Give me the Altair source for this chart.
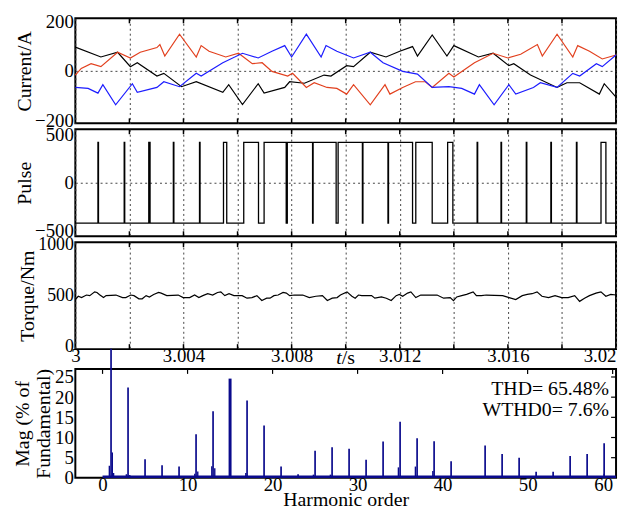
import altair as alt
import pandas as pd

W = 546
H1, H2, H3, H4 = 106, 108, 108, 110
FONT = "Liberation Serif"
RED = "#e2401e"
BLUE = "#1c1cff"
NAVY = "#0a0a8c"
GRID = "#444444"
T0 = 3.0

# ---------------- data: phase currents (time in microseconds after 3 s, current in A)
black_us = [0, 945, 1564, 2036, 2291, 3018, 3273, 3927, 4473, 5455,
            5673, 6182, 6764, 6982, 7745, 7927, 8473, 9200, 9455, 10036,
            10291, 10909, 11491, 12000, 12473, 12655, 13200, 13745, 14000, 14909,
            15454, 16036, 16218, 16836, 17818, 18182, 18655, 19382, 19564, 20000]
black_a = [96, 56, 75, 17, 33, -21, -10, -64, -44, -87,
           -56, -136, -52, -90, -67, -44, -50, -17, -21, 21,
           17, 75, 56, 79, 98, 60, 145, 60, 102, 56,
           71, 21, 29, -17, -67, -48, -48, -94, -52, -106]

red_us = [0, 218, 582, 945, 1564, 2036, 2400, 3018, 3127, 3309,
          3854, 4473, 4654, 4945, 5564, 6036, 6545, 6909, 7273, 7854,
          8036, 8545, 8836, 9309, 9673, 10036, 10291, 10909, 11454, 11636,
          12109, 12582, 12945, 13200, 13818, 14000, 14763, 15454, 16000, 16473,
          17091, 17273, 17818, 18400, 18582, 19018, 19491, 20000]
red_a = [-17, 10, 29, 17, 75, 52, 75, 94, 106, 60,
         148, 56, 102, 79, 56, 71, 29, 33, -2, -21,
         -10, -67, -48, -67, -71, -94, -56, -137, -56, -94,
         -67, -44, -44, -67, -10, -25, 33, 71, 52, 67,
         106, 60, 148, 56, 102, 79, 48, 64]

blue_us = [0, 473, 836, 1018, 1491, 2109, 2291, 3018, 3273, 3854,
           4473, 4654, 5455, 6182, 6764, 7273, 7745, 8000, 8545, 9091,
           9273, 9673, 10291, 10909, 11382, 12109, 12655, 13200, 13818, 14291,
           14763, 14945, 15490, 16036, 16291, 16945, 17200, 17818, 18400, 18655,
           19273, 19491, 20000]
blue_a = [-67, -71, -90, -56, -137, -52, -87, -67, -44, -64,
          -10, -21, 33, 71, 52, 79, 102, 56, 148, 56,
          102, 79, 52, 75, 33, -2, -13, -67, -64, -71,
          -94, -56, -137, -56, -94, -67, -48, -67, -10, -21,
          29, 17, 64]

# ---------------- data: pulse (switching edges, microseconds)
PULSE_LOW, PULSE_HIGH = -420, 420
pulse_edges_us = [836, 856, 1807, 1827, 2716, 2764, 3625, 3645, 4593, 4613,
                  5480, 5600, 6229, 6775, 6982, 7800, 7840, 8775, 8795, 9647,
                  9720, 10618, 10638, 11564, 11584, 12473, 12593, 13200, 13771, 13964,
                  14862, 14882, 15745, 15765, 16680, 16700, 17589, 17609, 18535, 18555,
                  19444, 19625]

# ---------------- data: torque
torque_us = [0, 109, 230, 412, 533, 715, 800, 897, 1042, 1139,
             1503, 1745, 1867, 2048, 2170, 2351, 2473, 2618, 2739, 2897,
             3079, 3175, 3382, 3806, 3988, 4230, 4412, 4569, 4715, 4897,
             5079, 5260, 5381, 5527, 5685, 5866, 6169, 6351, 6533, 6715,
             6897, 7078, 7200, 7345, 7502, 7684, 7805, 7927, 8108, 8411,
             8654, 8896, 9139, 9321, 9502, 9684, 9805,
             10048, 10230, 10351, 10472, 10593, 10957, 11078, 11321, 11502,
             11684, 11866, 11987, 12108, 12290, 12411, 12593, 12775, 13381, 13623,
             13866, 13987, 14108, 14290, 14472, 14714, 14835, 15017, 15199, 15805,
             16047, 16290, 16532, 16714, 16896, 17078, 17259, 17502, 17744, 17987,
             18229, 18471, 18653, 18835, 19017, 19259, 19441, 19623, 19805, 20000]
torque_nm = [462, 494, 481, 506, 500, 537, 531, 509, 481, 500,
             506, 481, 481, 506, 500, 469, 469, 500, 487, 512,
             531, 525, 500, 506, 481, 481, 506, 481, 500, 519,
             506, 531, 537, 500, 519, 500, 500, 475, 481, 500,
             453, 475, 475, 500, 506, 531, 525, 500, 506, 506,
             481, 494, 500, 453, 475, 481, 506,
             537, 494, 475, 506, 500, 500, 475, 487, 475,
             453, 500, 512, 494, 525, 537, 481, 506, 506, 475,
             481, 450, 487, 500, 512, 537, 500, 500, 506, 500,
             481, 462, 500, 512, 519, 537, 494, 481, 500, 481,
             481, 500, 444, 475, 500, 525, 537, 494, 512, 506]

# ---------------- data: harmonic spectrum
orders = [1, 3, 5, 7, 9, 11, 13, 15, 17, 19, 21, 23, 25, 27, 29, 31, 33, 35, 37, 39,
          41, 45, 47, 49, 51, 53, 55, 57, 59]
mags = [32, 22.4, 4.6, 3.1, 2.8, 10.8, 16.5, 24.6, 19.2, 13.0, 2.8, 0.9, 6.7, 7.6, 7.2,
        4.5, 9.0, 13.9, 9.8, 9.1, 4.1, 8.0, 5.9, 5.0, 1.5, 1.5, 5.4, 5.9, 8.6]
side_orders = [0.8, 1.15, 1.3, 2.8, 3.2, 10.85, 11.2, 12.85, 13.2, 16.85,
               24.8, 26.8, 34.8, 36.8, 38.85, 59.0]
side_mags = [3.0, 6.3, 1.2, 0.9, 0.7, 1.0, 1.6, 2.9, 2.4, 1.2,
             0.8, 0.8, 2.6, 2.8, 1.7, 1.0]
base_span = [0.0, 60.4]
base_level = 0.3
thd_lines = ["THD= 65.48%", "WTHD0= 7.6%"]

# ---------------- axis values
grid_t = [3.0, 3.002, 3.004, 3.006, 3.008, 3.01, 3.012, 3.014, 3.016, 3.018, 3.02]
tick_t = [3.002, 3.004, 3.006, 3.008, 3.01, 3.012, 3.014, 3.016, 3.018]
harm_ticks = [0, 10, 20, 30, 40, 50, 60]
mag_ticks = [0, 5, 10, 15, 20, 25]


def tdf(us, vals, col, **extra):
    d = {"t": [T0 + u / 1e6 for u in us], col: vals}
    d.update(extra)
    return pd.DataFrame(d)


cur = pd.concat([
    tdf(black_us, black_a, "a", phase=["a"] * len(black_us)),
    tdf(red_us, red_a, "a", phase=["b"] * len(red_us)),
    tdf(blue_us, blue_a, "a", phase=["c"] * len(blue_us)),
], ignore_index=True)

p_us = [0]
p_lv = [PULSE_LOW]
lvl = PULSE_LOW
for e in pulse_edges_us:
    lvl = PULSE_HIGH if lvl == PULSE_LOW else PULSE_LOW
    p_us.append(e)
    p_lv.append(lvl)
p_us.append(20000)
p_lv.append(lvl)
pulse = tdf(p_us, p_lv, "p")

torque = tdf(torque_us, torque_nm, "q")

zero_grid = {"condition": {"test": "datum.value == 0", "value": 1}, "value": 0}


def x_time(show_labels):
    ax = dict(values=grid_t, grid=True, gridDash=[2, 3], gridColor=GRID, gridWidth=1,
              ticks=False, domain=False, title=None)
    if show_labels:
        ax.update(labels=True, labelFlush=False,
                  labelExpr="(round((datum.value - 3) * 1000) % 4 == 0) ? format(datum.value, '.4~f') : ''",
                  labelFontSize=19, labelPadding=-2,
                  labelAlign={"condition": {"test": "datum.value >= 3.0199", "value": "right"}, "value": "center"})
    else:
        ax.update(labels=False)
    return alt.X("t:Q", scale=alt.Scale(domain=[3.0, 3.02], nice=False, zero=False),
                 axis=alt.Axis(**ax))


def y_ax(field, domain, values, title, grid, lab_size=19):
    return alt.Y(field, scale=alt.Scale(domain=domain, nice=False, zero=False),
                 axis=alt.Axis(values=values, title=title, grid=grid, gridDash=[2, 3],
                               gridColor=GRID, gridOpacity=zero_grid, ticks=False,
                               domain=False, labelPadding=2, labelFontSize=lab_size, format="d",
                               titleFontSize=20, titlePadding=0))


def inward_ticks(x, h):
    td = pd.DataFrame({"t": tick_t})
    top = alt.Chart(td).mark_rule(color="black", strokeWidth=1.5).encode(
        x=x, y=alt.value(0), y2=alt.value(5))
    bot = alt.Chart(td).mark_rule(color="black", strokeWidth=1.5).encode(
        x=x, y=alt.value(h - 5), y2=alt.value(h))
    return [top, bot]


# ---------------- panel 1: currents
x1 = x_time(False)
y1 = y_ax("a:Q", [-212, 212], [-200, 0, 200], "Current/A", True)
lines1 = alt.Chart(cur).mark_line(strokeWidth=1.2).encode(
    x=x1, y=y1,
    color=alt.Color("phase:N", scale=alt.Scale(domain=["a", "b", "c"], range=["black", RED, BLUE]),
                    legend=None),
    detail="phase:N")
p1 = alt.layer(lines1, *inward_ticks(x1, H1)).properties(width=W, height=H1)

# ---------------- panel 2: pulse
x2 = x_time(False)
y2 = y_ax("p:Q", [-555, 555], [-500, 0, 500], "Pulse", True)
line2 = alt.Chart(pulse).mark_line(color="black", strokeWidth=1.3, interpolate="step-after").encode(
    x=x2, y=y2)
p2 = alt.layer(line2, *inward_ticks(x2, H2)).properties(width=W, height=H2)

# ---------------- panel 3: torque
x3 = x_time(True)
y3 = y_ax("q:Q", [-25, 1025], [0, 500, 1000], "Torque/Nm", False, lab_size=18)
line3 = alt.Chart(torque).mark_line(color="black", strokeWidth=1.2).encode(x=x3, y=y3)
ts_df = pd.DataFrame({"t": [3.010]})
t_it = alt.Chart(ts_df).mark_text(text="t", font=FONT, fontStyle="italic", fontSize=20,
                                   align="right", baseline="alphabetic", dx=-4).encode(
    x=x3, y=alt.value(H3 + 15))
t_s = alt.Chart(ts_df).mark_text(text="/s", font=FONT, fontSize=20,
                                  align="left", baseline="alphabetic", dx=-4).encode(
    x=x3, y=alt.value(H3 + 15))
p3 = alt.layer(line3, t_it, t_s, *inward_ticks(x3, H3)).properties(width=W, height=H3)

# ---------------- spacer
spacer = alt.Chart(pd.DataFrame({"v": [0]})).mark_text(text="").encode(
    x=alt.value(0), y=alt.value(0)).properties(
    width=W, height=8, view=alt.ViewBackground(stroke="transparent"))

# ---------------- panel 4: spectrum
x4 = alt.X("h:Q", scale=alt.Scale(domain=[-3.2, 60.4], nice=False, zero=False),
           axis=alt.Axis(values=harm_ticks, grid=False, ticks=False, domain=False,
                         labelFontSize=19, labelPadding=-2, title="Harmonic order",
                         titleFontSize=20, titlePadding=-5, labelFlush=False,
                         labelAlign={"condition": {"test": "datum.value >= 60", "value": "right"}, "value": "center"}))
y4 = alt.Y("m:Q", scale=alt.Scale(domain=[0, 27], nice=False, zero=False),
           axis=alt.Axis(values=mag_ticks, grid=False, ticks=False, domain=False,
                         labelFontSize=19, labelPadding=2,
                         title=["Mag (% of", "Fundamental)"], titleFontSize=20,
                         titleLineHeight=21, titlePadding=1))

base = alt.Chart(pd.DataFrame({"h": [base_span[0]], "h2": [base_span[1]], "m": [base_level]})).mark_rule(
    color=NAVY, strokeWidth=2.5).encode(x=x4, x2="h2:Q", y=y4)
side = alt.Chart(pd.DataFrame({"h": side_orders, "m": side_mags, "z": [0] * len(side_orders)})).mark_rule(
    color=NAVY, strokeWidth=1.4).encode(x=x4, y=y4, y2="z:Q")
spikes = alt.Chart(pd.DataFrame({"h": orders, "m": mags, "z": [0] * len(orders)})).mark_rule(
    color=NAVY, clip=False).encode(
    x=x4, y=y4, y2="z:Q",
    strokeWidth=alt.condition("datum.h == 15", alt.value(3), alt.value(1.7)))
thd1 = alt.Chart(pd.DataFrame({"txt": [thd_lines[0]]})).mark_text(
    font=FONT, fontSize=20, align="right", baseline="alphabetic", color="black").encode(
    text="txt:N", x=alt.value(W - 7), y=alt.value(26))
thd2 = alt.Chart(pd.DataFrame({"txt": [thd_lines[1]]})).mark_text(
    font=FONT, fontSize=20, align="right", baseline="alphabetic", color="black").encode(
    text="txt:N", x=alt.value(W - 7), y=alt.value(48))
top_t = alt.Chart(pd.DataFrame({"h": harm_ticks})).mark_rule(color="black", strokeWidth=1.2).encode(
    x=x4, y=alt.value(0), y2=alt.value(5))
right_t = alt.Chart(pd.DataFrame({"m": mag_ticks[1:]})).mark_rule(color="black", strokeWidth=1.2).encode(
    y=y4, x=alt.value(W - 5), x2=alt.value(W))
p4 = alt.layer(base, side, spikes, thd1, thd2, top_t, right_t).properties(width=W, height=H4)

chart = alt.vconcat(p1, p2, p3, spacer, p4, spacing=6, bounds="flush").properties(
    padding={"left": 4, "right": 0, "top": 0, "bottom": -2}
).configure_view(stroke="black", strokeWidth=2).configure_axis(
    labelFont=FONT, titleFont=FONT, labelColor="black", titleColor="black",
    titleFontWeight="normal"
).configure_text(font=FONT)

chart.save("out.html", embed_options={"renderer": "svg", "actions": False})
